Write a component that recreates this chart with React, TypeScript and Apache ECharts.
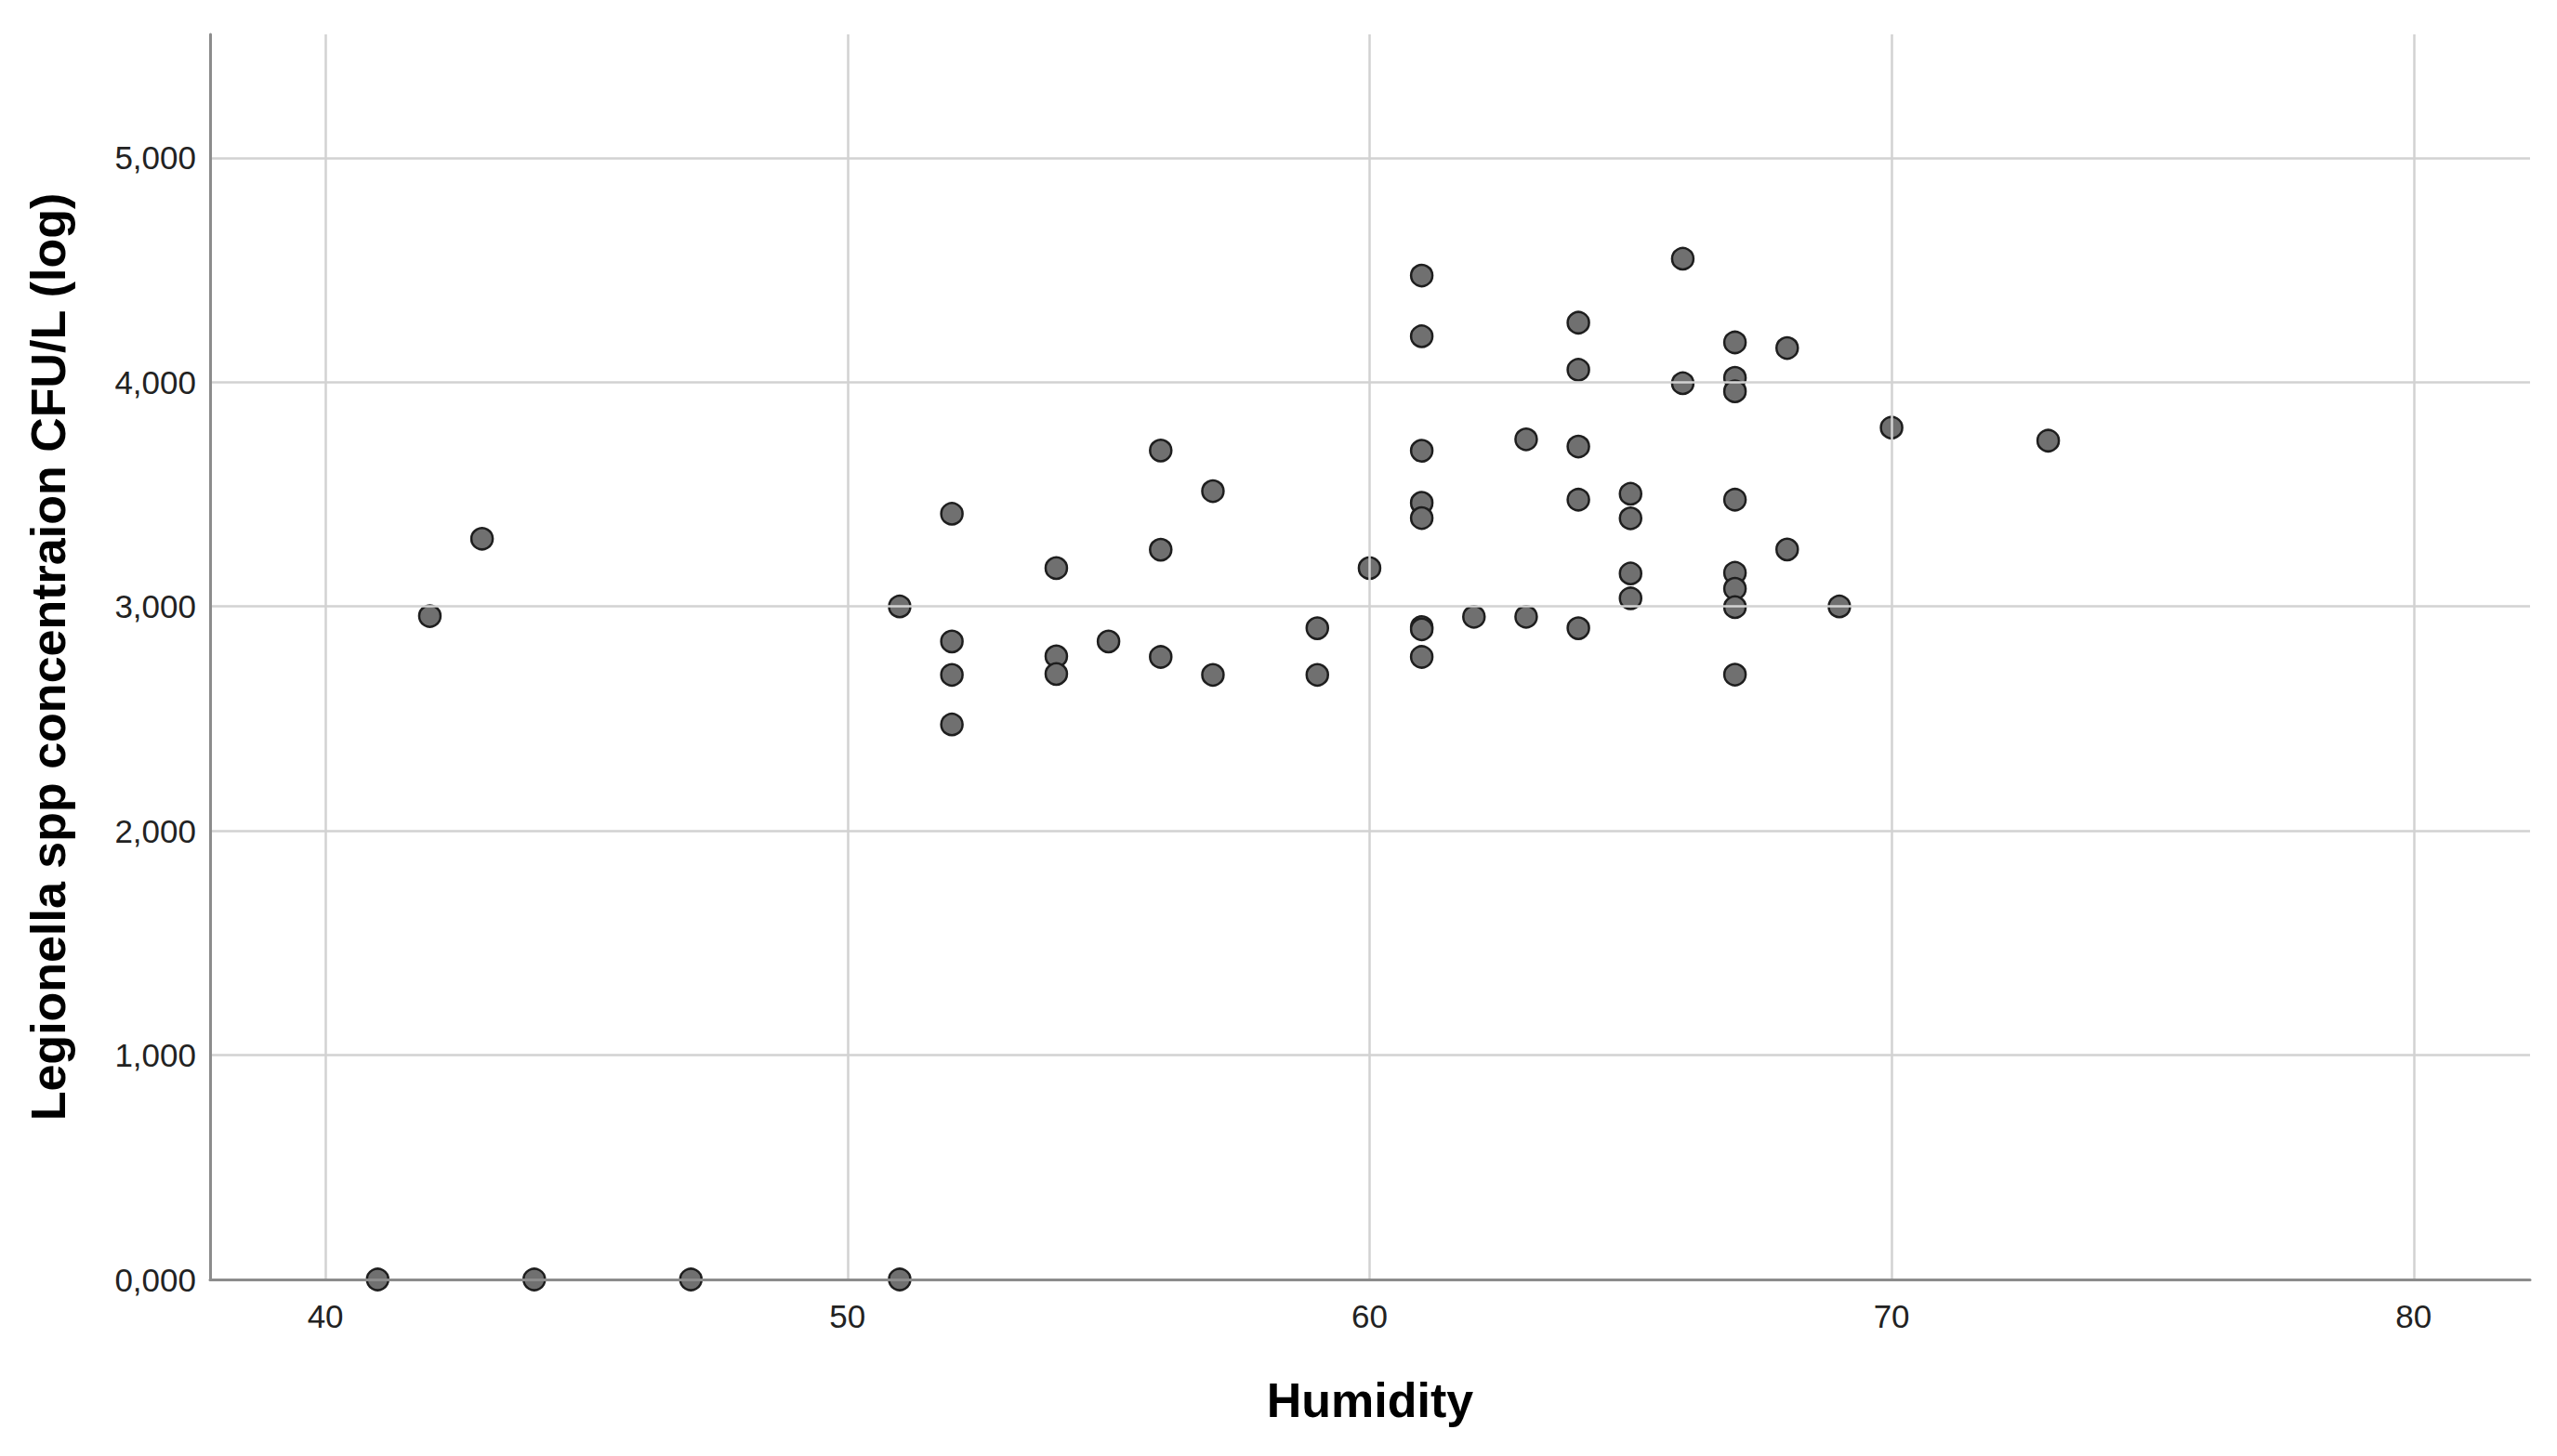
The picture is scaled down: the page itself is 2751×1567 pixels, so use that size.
import React, { useEffect, useRef } from "react";
import * as echarts from "echarts";

// Humidity (x) and Legionella spp concentration CFU/L (log) (y)
const humidity: number[] = [
  41, 44, 47, 51,
  42, 43,
  51,
  52, 52, 52, 52,
  54, 54, 54,
  55,
  56, 56, 56,
  57, 57,
  59, 59,
  60,
  61, 61, 61, 61, 61, 61, 61, 61,
  62,
  63, 63,
  64, 64, 64, 64, 64,
  65, 65, 65, 65,
  66, 66,
  67, 67, 67, 67, 67, 67, 67, 67,
  68, 68,
  69,
  70,
  73,
];
const concentration: number[] = [
  0, 0, 0, 0,
  2.957, 3.302,
  3.0,
  3.413, 2.844, 2.695, 2.474,
  3.171, 2.778, 2.699,
  2.844,
  3.695, 3.253, 2.775,
  3.514, 2.695,
  2.903, 2.695,
  3.171,
  4.475, 4.204, 3.694, 3.462, 3.394, 2.908, 2.898, 2.775,
  2.954,
  3.745, 2.954,
  4.265, 4.055, 3.713, 3.476, 2.903,
  3.502, 3.393, 3.147, 3.036,
  4.55, 3.995,
  4.177, 4.019, 3.959, 3.476, 3.15, 3.079, 2.997, 2.696,
  4.152, 3.254,
  3.0,
  3.797,
  3.739,
];

const xTitle = "Humidity";
const yTitle = "Legionella spp concentraion CFU/L (log)";

export default function App() {
  const ref = useRef<HTMLDivElement>(null);
  useEffect(() => {
    if (!ref.current) return;
    const chart = echarts.init(ref.current, undefined, { renderer: "svg" });
    const points = humidity.map((h, i) => [h, concentration[i]]);
    const font = "'Liberation Sans', Arial, sans-serif";
    chart.setOption({
      animation: false,
      backgroundColor: "#ffffff",
      grid: { left: 226, right: 29, top: 37, bottom: 190, containLabel: false },
      xAxis: {
        type: "value",
        min: 37.79,
        max: 82.23,
        splitNumber: 4,
        name: xTitle,
        nameLocation: "middle",
        nameGap: 104,
        nameTextStyle: { fontFamily: font, fontSize: 52, fontWeight: "bold", color: "#000" },
        axisLine: { show: true, onZero: false, lineStyle: { color: "#8c8c8c", width: 3 } },
        axisTick: { show: false },
        axisLabel: {
          fontFamily: font,
          fontSize: 35,
          color: "#222",
          margin: 22,
          showMinLabel: false,
          showMaxLabel: false,
        },
        splitLine: {
          show: true,
          showMinLine: false,
          showMaxLine: false,
          lineStyle: { color: "#d2d2d2", width: 2.5 },
        },
        z: 3,
      },
      yAxis: {
        type: "value",
        min: 0,
        max: 5.55,
        interval: 1,
        name: yTitle,
        nameLocation: "middle",
        nameGap: 148,
        nameRotate: 90,
        nameTextStyle: { fontFamily: font, fontSize: 52, fontWeight: "bold", color: "#000" },
        axisLine: { show: true, onZero: false, lineStyle: { color: "#8c8c8c", width: 3 } },
        axisTick: { show: false },
        axisLabel: {
          fontFamily: font,
          fontSize: 35,
          color: "#222",
          margin: 15,
          showMaxLabel: false,
          formatter: (v: number) => v.toFixed(3).replace(".", ","),
        },
        splitLine: {
          show: true,
          showMinLine: false,
          showMaxLine: false,
          lineStyle: { color: "#d2d2d2", width: 2.5 },
        },
        z: 3,
      },
      series: [
        {
          type: "scatter",
          data: points,
          symbol: "circle",
          symbolSize: 23,
          clip: true,
          itemStyle: { color: "#707070", borderColor: "#1e1e1e", borderWidth: 2.5, opacity: 1 },
        },
      ],
    });
    return () => chart.dispose();
  }, []);
  return (
    <div
      ref={ref}
      style={{ position: "fixed", left: 0, top: 0, width: 2751, height: 1567, background: "#fff" }}
    />
  );
}
